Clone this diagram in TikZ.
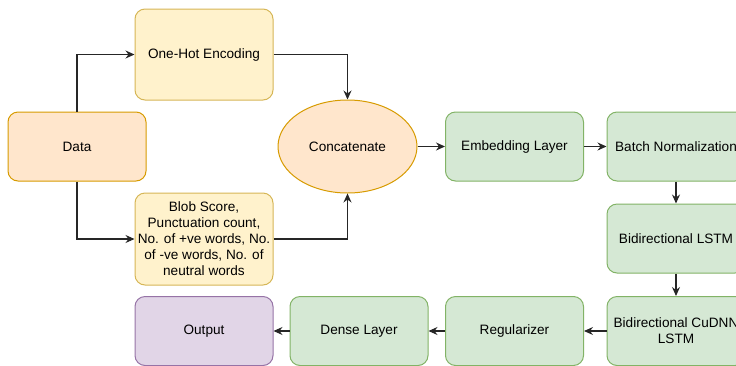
\documentclass[tikz,border=0pt]{standalone}
\usepackage{fontspec}
\setmainfont{Liberation Sans}
\usetikzlibrary{arrows.meta,shapes.geometric}
\definecolor{orF}{HTML}{FFE6CC}\definecolor{orD}{HTML}{D79B00}
\definecolor{yeF}{HTML}{FFF2CC}\definecolor{yeD}{HTML}{D6B656}
\definecolor{grF}{HTML}{D5E8D4}\definecolor{grD}{HTML}{82B366}
\definecolor{puF}{HTML}{E1D5E7}\definecolor{puD}{HTML}{9673A6}
\tikzset{
  box/.style={rectangle, rounded corners=10pt, line width=1pt, minimum width=138pt, minimum height=69pt, inner sep=2pt, align=center, font=\fontsize{13.6}{16}\selectfont},
  orbox/.style={box, fill=orF, draw=orD},
  yebox/.style={box, fill=yeF, draw=yeD},
  grbox/.style={box, fill=grF, draw=grD},
  pubox/.style={box, fill=puF, draw=puD},
  conn/.style={line width=1.1pt, draw=black!85, -{Stealth[length=9pt,width=8pt,inset=3pt]}},
}
\begin{document}
\begin{tikzpicture}[x=1pt,y=-1pt]
\useasboundingbox (0,0) rectangle (736,365);
\clip (0,0) rectangle (736,365);
\node[orbox] (data) at (77,146.5) {Data};
\node[yebox, minimum height=91pt] (onehot) at (204,54.5) {One-Hot Encoding};
\node[yebox, minimum height=92pt] (blob) at (204,239) {Blob Score,\\Punctuation count,\\No. of +ve words, No.\\of -ve words, No. of\\neutral words};
\node[pubox] (out) at (204,331) {Output};
\node[ellipse, fill=orF, draw=orD, line width=1pt, minimum width=139pt, minimum height=93pt, inner sep=0pt, font=\fontsize{13.6}{16}\selectfont] (concat) at (347.5,146.5) {Concatenate};
\node[grbox] (emb) at (514.5,146.5) {Embedding Layer};
\node[grbox] (bn) at (676,146.5) {Batch Normalization};
\node[grbox] (lstm) at (676,238.5) {Bidirectional LSTM};
\node[grbox] (cudnn) at (676,331) {Bidirectional CuDNN\\LSTM};
\node[grbox] (reg) at (514.5,331) {Regularizer};
\node[grbox] (dense) at (359,331) {Dense Layer};
\draw[conn] (data.north) |- (onehot.west);
\draw[conn] (data.south) |- (blob.west);
\draw[conn] (onehot.east) -| (concat.north);
\draw[conn] (blob.east) -| (concat.south);
\draw[conn] (concat.east) -- (emb.west);
\draw[conn] (emb.east) -- (bn.west);
\draw[conn] (bn.south) -- (lstm.north);
\draw[conn] (lstm.south) -- (cudnn.north);
\draw[conn] (cudnn.west) -- (reg.east);
\draw[conn] (reg.west) -- (dense.east);
\draw[conn] (dense.west) -- (out.east);
\end{tikzpicture}
\end{document}
